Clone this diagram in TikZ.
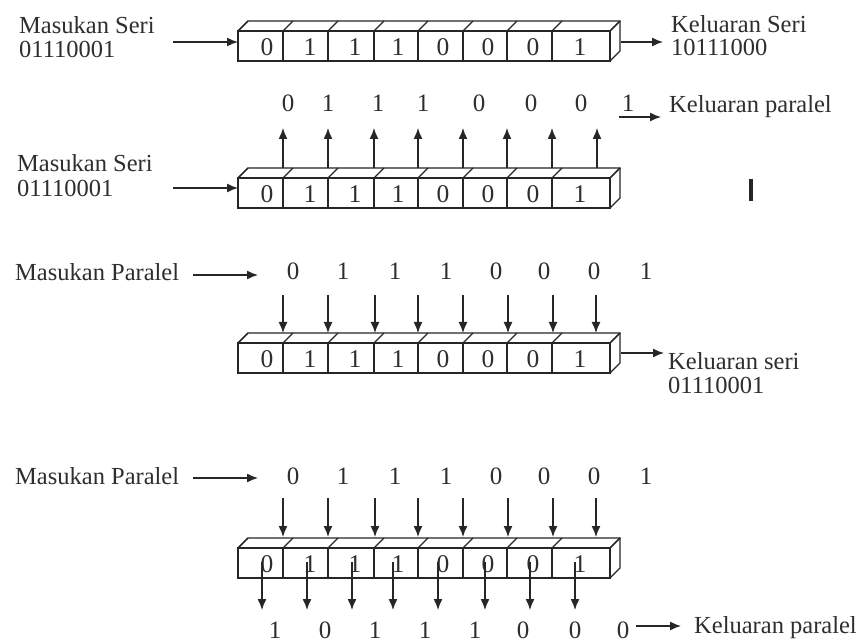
\documentclass[tikz,border=0pt]{standalone}
\usepackage{fontspec}
\setmainfont{Liberation Serif}
\usetikzlibrary{arrows.meta}
\definecolor{ink}{HTML}{262626}
\definecolor{txt}{HTML}{2E2E2E}
% register box: #1 name, #2 y of front top edge
\newcommand{\regdraw}[2]{%
  \draw[regline] (238,#2) rectangle (610,#2+30);
  \draw[regline] (238,#2) -- (248,#2-10) -- (620,#2-10) -- (620,#2+20) -- (610,#2+30);
  \draw[regline] (610,#2) -- (620,#2-10);
  \foreach \xx [count=\ii from 0] in {238,283,328,374,418,463,507,552,610} {
    \coordinate (#1-f\ii) at (\xx,#2);
    \coordinate (#1-k\ii) at (\xx+10,#2-10);
    \draw[regline] (#1-f\ii) -- (\xx,#2+30);
    \draw[regline] (#1-f\ii) -- (#1-k\ii);
  }
  \foreach \dd/\xx [count=\ii] in {0/267,1/310,1/355,1/398,0/443,0/488,0/533,1/580} {
    \node[celldig] (#1-d\ii) at (\xx,#2+16) {\dd};
  }
}
\begin{document}
\begin{tikzpicture}[x=1pt,y=-1pt,
  regline/.style={draw=ink,line width=1.3pt},
  arr/.style={draw=ink,line width=1.4pt,-{Latex[length=11pt,width=9pt]}},
  lbl/.style={font=\fontsize{24.5}{26}\selectfont,inner sep=0pt,text=txt},
  celldig/.style={font=\fontsize{25.5}{26}\selectfont,inner sep=0pt,text=txt},
  freedig/.style={font=\fontsize{25}{26}\selectfont,inner sep=0pt,text=txt}]
\useasboundingbox[fill=white] (0,0) rectangle (862,644);

% ---------- Row 1: serial in, serial out ----------
\regdraw{ra}{31}
\node[lbl,anchor=base west] (ra-la) at (19,34) {Masukan Seri};
\node[lbl,anchor=base west] (ra-lb) at (19,58) {01110001};
\coordinate (ra-in) at (173,42);
\coordinate (ra-inend) at (238,42);
\draw[arr] (ra-in) -- (ra-inend);
\coordinate (ra-out) at (621,42);
\coordinate (ra-outend) at (663,42);
\draw[arr] (ra-out) -- (ra-outend);
\node[lbl,anchor=base west] (ra-ra) at (671,33) {Keluaran Seri};
\node[lbl,anchor=base west] (ra-rb) at (671,56) {10111000};

% ---------- Row 2: serial in, parallel out ----------
\regdraw{rb}{178}
\node[lbl,anchor=base west] (rb-la) at (17,172) {Masukan Seri};
\node[lbl,anchor=base west] (rb-lb) at (17,197) {01110001};
\coordinate (rb-in) at (173,188);
\coordinate (rb-inend) at (238,188);
\draw[arr] (rb-in) -- (rb-inend);
\foreach \xx [count=\ii] in {283,328,374,418,463,507,552,597} {
  \coordinate (rb-u\ii) at (\xx,168);
  \coordinate (rb-v\ii) at (\xx,128);
  \draw[arr] (rb-u\ii) -- (rb-v\ii);
}
\foreach \dd/\xx [count=\ii] in {0/288,1/328,1/378,1/423,0/479,0/531,0/581,1/628} {
  \node[freedig] (rb-o\ii) at (\xx,103) {\dd};
}
\coordinate (rb-out) at (619,117);
\coordinate (rb-outend) at (661,117);
\draw[arr] (rb-out) -- (rb-outend);
\node[lbl,anchor=base west] (rb-ra) at (669,113) {Keluaran paralel};
\draw[draw=ink,line width=3.5pt] (751,179) -- (751,201);

% ---------- Row 3: parallel in, serial out ----------
\regdraw{rc}{343}
\node[lbl,anchor=base west] (rc-la) at (15,281) {Masukan Paralel};
\coordinate (rc-in) at (193,275);
\coordinate (rc-inend) at (258,275);
\draw[arr] (rc-in) -- (rc-inend);
\foreach \dd/\xx [count=\ii] in {0/293,1/343,1/395,1/446,0/496,0/544,0/594,1/646} {
  \node[freedig] (rc-i\ii) at (\xx,271) {\dd};
}
\foreach \xx [count=\ii] in {283,328,375,418,463,508,553,596} {
  \coordinate (rc-s\ii) at (\xx,295);
  \coordinate (rc-t\ii) at (\xx,333);
  \draw[arr] (rc-s\ii) -- (rc-t\ii);
}
\coordinate (rc-out) at (621,353);
\coordinate (rc-outend) at (664,353);
\draw[arr] (rc-out) -- (rc-outend);
\node[lbl,anchor=base west] (rc-ra) at (668,369) {Keluaran seri};
\node[lbl,anchor=base west] (rc-rb) at (668,393) {01110001};

% ---------- Row 4: parallel in, parallel out ----------
\regdraw{rd}{548}
\node[lbl,anchor=base west] (rd-la) at (15,484) {Masukan Paralel};
\coordinate (rd-in) at (193,478);
\coordinate (rd-inend) at (258,478);
\draw[arr] (rd-in) -- (rd-inend);
\foreach \dd/\xx [count=\ii] in {0/293,1/343,1/395,1/446,0/496,0/544,0/594,1/646} {
  \node[freedig] (rd-i\ii) at (\xx,476) {\dd};
}
\foreach \xx [count=\ii] in {283,328,375,418,463,508,553,596} {
  \coordinate (rd-s\ii) at (\xx,498);
  \coordinate (rd-t\ii) at (\xx,537);
  \draw[arr] (rd-s\ii) -- (rd-t\ii);
}
\foreach \xx [count=\ii] in {262,307,352,393,438,485,530,575} {
  \coordinate (rd-p\ii) at (\xx,562);
  \coordinate (rd-q\ii) at (\xx,610);
  \draw[arr] (rd-p\ii) -- (rd-q\ii);
}
\foreach \dd/\xx [count=\ii] in {1/275,0/325,1/375,1/425,1/475,0/523,0/575,0/623} {
  \node[freedig] (rd-o\ii) at (\xx,630) {\dd};
}
\coordinate (rd-out) at (636,626);
\coordinate (rd-outend) at (681,626);
\draw[arr] (rd-out) -- (rd-outend);
\node[lbl,anchor=base west] (rd-ra) at (694,633) {Keluaran paralel};
\end{tikzpicture}
\end{document}
